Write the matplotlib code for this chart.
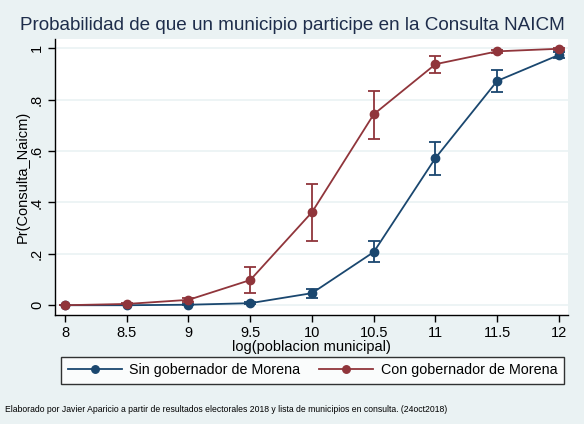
import numpy as np
import matplotlib
matplotlib.use('Agg')
import matplotlib.pyplot as plt

plt.rcParams['font.family'] = ['Liberation Sans', 'DejaVu Sans']

x_vals = [8, 8.5, 9, 9.5, 10, 10.5, 11, 11.5, 12]

sin_p = [0.0, 0.0, 0.002, 0.008, 0.047, 0.207, 0.573, 0.873, 0.974]
sin_lo = [0.0, 0.0, 0.0, 0.004, 0.030, 0.168, 0.508, 0.829, 0.962]
sin_hi = [0.0, 0.001, 0.004, 0.012, 0.065, 0.250, 0.635, 0.916, 0.986]

con_p = [0.0, 0.005, 0.021, 0.098, 0.362, 0.743, 0.938, 0.988, 0.998]
con_lo = [0.0, 0.002, 0.012, 0.048, 0.250, 0.646, 0.903, 0.982, 0.995]
con_hi = [0.0, 0.008, 0.030, 0.148, 0.472, 0.833, 0.971, 0.994, 1.0]

y_ticks = [0, 0.2, 0.4, 0.6, 0.8, 1]
y_labels = ['0', '.2', '.4', '.6', '.8', '1']
x_ticks = [8, 8.5, 9, 9.5, 10, 10.5, 11, 11.5, 12]
x_labels = ['8', '8.5', '9', '9.5', '10', '10.5', '11', '11.5', '12']

bg = '#eaf2f3'
navy = '#1a476f'
maroon = '#90353b'

fig = plt.figure(figsize=(5.84, 4.24), dpi=100, facecolor=bg)
ax = fig.add_axes([55 / 584, 1 - 315 / 424, 513 / 584, 276 / 424])
ax.set_facecolor('white')

for yt in y_ticks:
    ax.axhline(yt, color=bg, lw=1.2, zorder=0)


def draw(p, lo, hi, color, label):
    p = np.array(p)
    err = [p - np.array(lo), np.array(hi) - p]
    ax.errorbar(x_vals, p, yerr=err, fmt='none', ecolor=color, elinewidth=1.3,
                capsize=4.5, capthick=1.3, zorder=2)
    ax.plot(x_vals, p, color=color, lw=1.3, marker='o', markersize=6,
            label=label, zorder=3)


draw(sin_p, sin_lo, sin_hi, navy, 'Sin gobernador de Morena')
draw(con_p, con_lo, con_hi, maroon, 'Con gobernador de Morena')

ax.set_xlim(7.919, 12.073)
ax.set_ylim(-0.038, 1.036)
ax.set_xticks(x_ticks)
ax.set_xticklabels(x_labels, fontsize=10.5)
ax.set_yticks(y_ticks)
ax.set_yticklabels(y_labels, fontsize=10.5, rotation=90, va='center')
ax.tick_params(length=5, width=1, color='black', pad=3)

for s in ['top', 'right']:
    ax.spines[s].set_visible(False)
for s in ['left', 'bottom']:
    ax.spines[s].set_color('black')
    ax.spines[s].set_linewidth(1)

ax.set_xlabel('log(poblacion municipal)', fontsize=10.5, labelpad=0)
ax.set_ylabel('Pr(Consulta_Naicm)', fontsize=10.5, labelpad=0)

fig.text(292 / 584, 1 - 25 / 424,
         'Probabilidad de que un municipio participe en la Consulta NAICM',
         ha='center', va='center', fontsize=13.6, color='#1e2d4b')

leg = ax.legend(loc='upper center', bbox_to_anchor=(0.502, -0.151), ncol=2,
                fontsize=10.3, frameon=True, fancybox=False, edgecolor='black',
                handlelength=3.8, handletextpad=0.5, columnspacing=1.3,
                borderpad=0.45, borderaxespad=0, markerscale=0.9)
leg.get_frame().set_linewidth(1)

fig.text(5 / 584, 1 - 409 / 424,
         'Elaborado por Javier Aparicio a partir de resultados electorales 2018 y lista de municipios en consulta. (24oct2018)',
         ha='left', va='center', fontsize=6.2)

fig.savefig('out.png', dpi=100, facecolor=bg)
